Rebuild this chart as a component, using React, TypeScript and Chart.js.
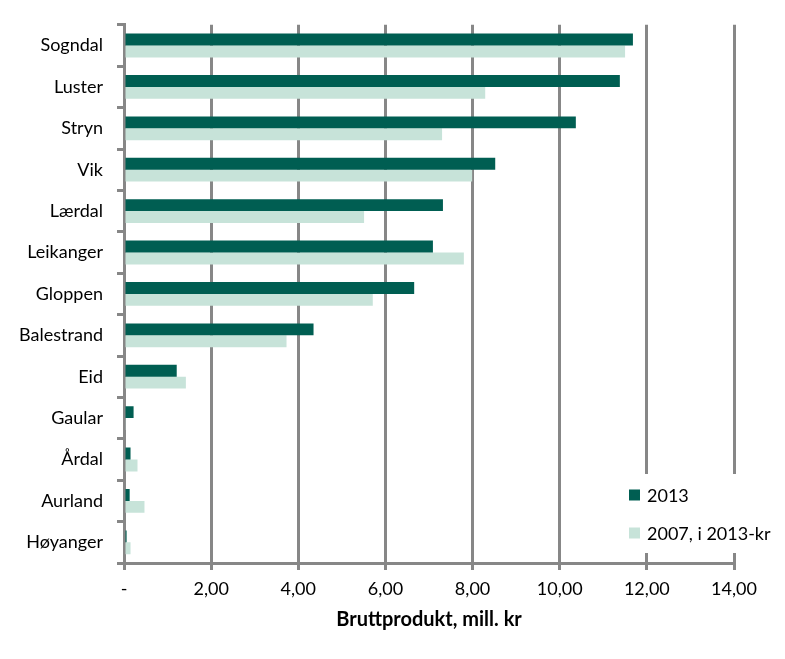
import React, { useEffect, useRef } from 'react';
import { Chart, registerables } from 'chart.js';
Chart.register(...registerables);

const categories = ['Sogndal', 'Luster', 'Stryn', 'Vik', 'Lærdal', 'Leikanger', 'Gloppen', 'Balestrand', 'Eid', 'Gaular', 'Årdal', 'Aurland', 'Høyanger'];
const values2013 = [11.68, 11.38, 10.37, 8.52, 7.32, 7.09, 6.66, 4.35, 1.21, 0.22, 0.15, 0.13, 0.06];
const values2007 = [11.5, 8.29, 7.3, 7.99, 5.51, 7.8, 5.71, 3.73, 1.42, 0.04, 0.31, 0.47, 0.15];
const seriesLabels = ['2013', '2007, i 2013-kr'];
const seriesColors = ['#005E52', '#C7E3D9'];
const xMin = 0;
const xMax = 14;
const xStep = 2;
const xTitle = 'Bruttprodukt, mill. kr';

const FONT = 'Lato, "DejaVu Sans", sans-serif';
const GRID = '#878787';

const legendPlugin = {
  id: 'insideLegend',
  afterDraw(chart: any) {
    const ctx = chart.ctx;
    const area = chart.chartArea;
    ctx.save();
    ctx.fillStyle = '#ffffff';
    ctx.fillRect(area.left + 0.72 * (area.right - area.left) + 5, area.bottom - 89, 170, 79);
    ctx.font = '18px ' + FONT;
    ctx.textBaseline = 'middle';
    ctx.textAlign = 'left';
    const x0 = 629;
    const ys = [495, 533];
    chart.data.datasets.forEach((ds: any, i: number) => {
      ctx.fillStyle = ds.backgroundColor;
      ctx.fillRect(x0, ys[i] - 5.5, 11, 11);
      ctx.fillStyle = '#000';
      ctx.fillText(ds.label, x0 + 18, ys[i] + 1);
    });
    ctx.restore();
  },
};

export default function App() {
  const ref = useRef<HTMLCanvasElement | null>(null);
  useEffect(() => {
    if (!ref.current) return;
    const chart = new Chart(ref.current, {
      type: 'bar',
      data: {
        labels: categories,
        datasets: [
          { label: seriesLabels[0], data: values2013, backgroundColor: seriesColors[0], borderWidth: 0 },
          { label: seriesLabels[1], data: values2007, backgroundColor: seriesColors[1], borderWidth: 0 },
        ],
      },
      options: {
        indexAxis: 'y',
        animation: false,
        responsive: false,
        maintainAspectRatio: false,
        layout: { padding: { top: 23, right: 51, left: 0, bottom: 0 } },
        datasets: { bar: { categoryPercentage: 0.575, barPercentage: 1 } },
        plugins: { legend: { display: false }, tooltip: { enabled: false } },
        scales: {
          x: {
            min: xMin,
            max: xMax,
            ticks: {
              stepSize: xStep,
              color: '#000',
              font: { family: FONT, size: 18 },
              padding: 8,
              callback: (v: any) => (Number(v) === 0 ? '-' : Number(v).toFixed(2).replace('.', ',')),
            },
            grid: { color: GRID, lineWidth: 3, tickLength: 7, drawTicks: true },
            border: { display: true, color: GRID, width: 3 },
            title: {
              display: true,
              text: xTitle,
              color: '#000',
              font: { family: FONT, size: 20, weight: 'bold' },
              padding: { top: 0, bottom: 27 },
            },
            afterFit: (s: any) => { s.height = 96; },
          },
          y: {
            ticks: { color: '#000', font: { family: FONT, size: 18 }, padding: 14 },
            grid: { offset: true, drawOnChartArea: false, color: GRID, lineWidth: 3, tickLength: 7 },
            border: { display: true, color: GRID, width: 3 },
            afterFit: (s: any) => { s.width = 124; },
          },
        },
      },
      plugins: [legendPlugin],
    } as any);
    return () => chart.destroy();
  }, []);
  return (
    <div style={{ position: 'absolute', left: 0, top: 0, width: 785, height: 659, background: '#fff' }}>
      <canvas ref={ref} width={785} height={659} style={{ width: 785, height: 659 }} />
    </div>
  );
}
